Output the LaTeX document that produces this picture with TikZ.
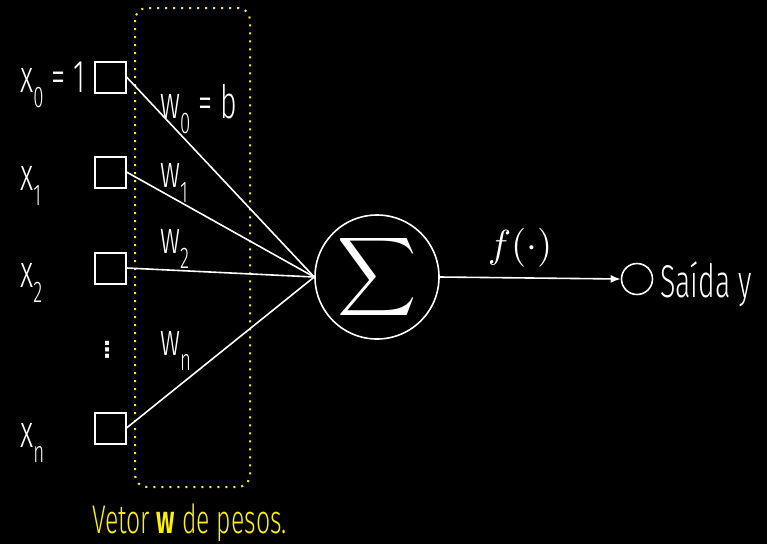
\documentclass[tikz,border=0pt]{standalone}
\usepackage{fontspec}
\setmainfont{Fira Sans Light}[FakeStretch=0.62]
\newfontfamily\djv{DejaVu Sans}
\usetikzlibrary{arrows.meta}
\newcommand\lowsub[1]{\raisebox{-15pt}{\fontsize{30}{30}\selectfont #1}}
\begin{document}
\begin{tikzpicture}[x=1pt,y=-1pt,
  inbox/.style={draw=white,line width=2pt,minimum size=31pt,inner sep=0pt},
  lbl/.style={text=white,anchor=base west,inner sep=0pt,font=\fontsize{46}{48}\selectfont},
  conn/.style={draw=white,line width=1.6pt}]
\fill[black] (0,0) rectangle (767,544);
\useasboundingbox (0,0) rectangle (767,544);
% weight vector frame
\draw[yellow,line width=2pt,dash pattern=on 2pt off 6pt,rounded corners=12pt] (135,8) rectangle (250,487);
% input boxes
\node[inbox] (b0) at (110,77) {};
\node[inbox] (b1) at (110,172) {};
\node[inbox] (b2) at (110,268) {};
\node[inbox] (bn) at (110,428) {};
\node[text=white,inner sep=0pt,font=\djv\bfseries\fontsize{22}{22}\selectfont] (dots) at (107,350) {⋮};
% input labels
\node[lbl] (l0) at (20,92) {x\lowsub{0} = 1};
\node[lbl] (l1) at (20,190) {x\lowsub{1}};
\node[lbl] (l2) at (20,287) {x\lowsub{2}};
\node[lbl] (ln) at (20,447) {x\lowsub{n}};
% sum node
\node[draw=white,line width=1.6pt,circle,minimum size=124pt,inner sep=0pt,text=white] (sum) at (377,277)
  {\scalebox{5.5}{$\displaystyle\sum$}};
% weight labels
\node[lbl] (w0) at (160,118) {w\lowsub{0} = b};
\node[lbl] (w1) at (160,187) {w\lowsub{1}};
\node[lbl] (w2) at (160,253) {w\lowsub{2}};
\node[lbl] (wn) at (160,355) {w\lowsub{n}};
% connectors
\draw[conn] (b0.east) -- (sum.west);
\draw[conn] (b1.east) -- (sum.west);
\draw[conn] (b2.east) -- (sum.west);
\draw[conn] (bn.east) -- (sum.west);
% output
\node[draw=white,line width=1.6pt,circle,minimum size=31pt,inner sep=0pt] (out) at (637,279) {};
\draw[conn,-{Latex[length=10pt,width=8pt]}] (sum.east) -- (out.west);
\node[text=white,inner sep=0pt] (f) at (520,248) {\scalebox{3.9}{$f(\cdot)$}};
\node[lbl] (saida) at (660,297) {Saída y};
% caption
\node[lbl,text=yellow,font=\fontsize{40}{44}\selectfont] (cap) at (92,533) {Vetor \textbf{w} de pesos.};
\end{tikzpicture}
\end{document}
